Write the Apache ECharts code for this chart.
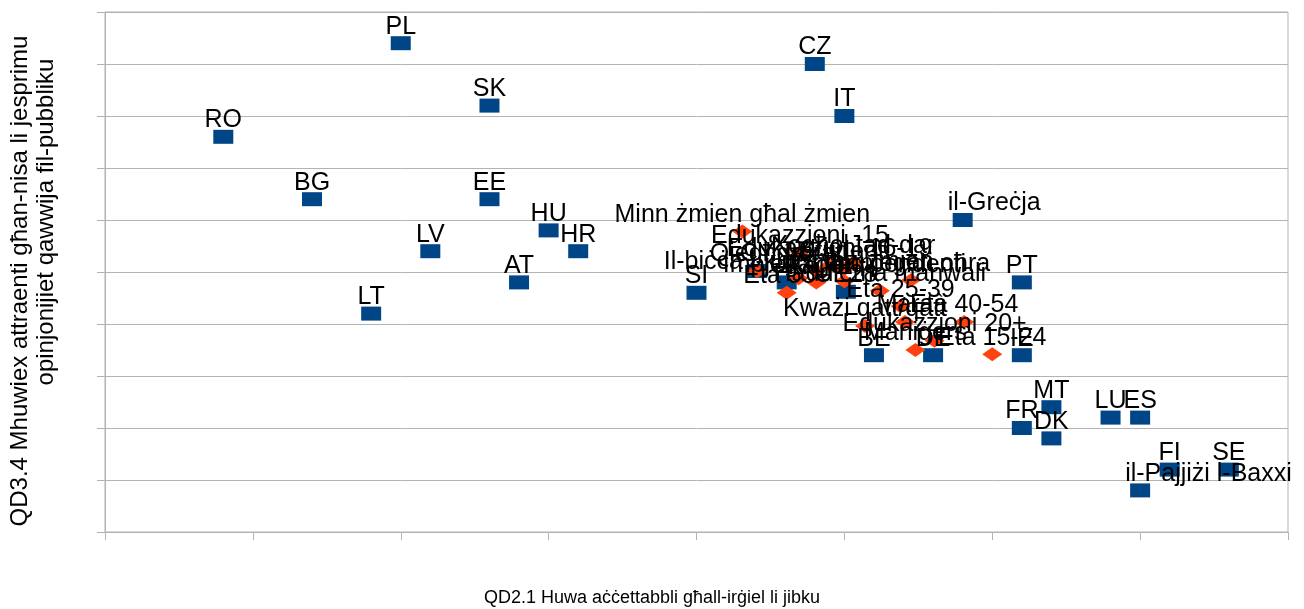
<!DOCTYPE html>
<html>
<head>
<meta charset="utf-8">
<title>QD2.1 / QD3.4</title>
<script src="https://cdn.jsdelivr.net/npm/echarts@6/dist/echarts.min.js"></script>
<style>
  html, body { margin: 0; padding: 0; background: #fff; }
  #chart { width: 1304px; height: 609px; }
</style>
</head>
<body>
<div id="chart"></div>
<script>
// pajjiżi (kwadri blu)
var countryNames = ["RO", "PL", "SK", "BG", "EE", "LV", "LT", "AT", "HU", "HR", "SI", "CZ", "IT",
  "il-Greċja", "PT", "BE", "DE", "IE", "FR", "MT", "DK", "LU", "ES", "FI", "SE",
  "il-Pajjiżi l-Baxxi", "CY", "UK", "UE28"];
var countryX = [8.0, 20.0, 26.0, 14.0, 26.0, 22.0, 18.0, 28.0, 30.0, 32.0, 40.0, 48.0, 50.0,
  58.0, 62.0, 52.0, 56.0, 62.0, 62.0, 64.0, 64.0, 68.0, 70.0, 72.0, 76.0,
  70.0, 44.1, 46.1, 50.1];
var countryY = [38.0, 47.0, 41.0, 32.0, 32.0, 27.0, 21.0, 24.0, 29.0, 27.0, 23.0, 45.0, 40.0,
  30.0, 24.0, 17.0, 17.0, 17.0, 10.0, 12.0, 9.0, 11.0, 11.0, 6.0, 6.0,
  4.0, 25.1, 24.0, 23.1];

// gruppi soċjo-demografiċi (djamanti oranġjo)
var groupNames = ["Minn żmien għal żmien", "Edukazzjoni -15", "Xogħol tad-dar", "Il-biċċa l-kbira taż-żmien",
  "Qiegħda", "Raġel", "Edukazzjoni 16-19", "Età 55+", "Ħaddiema manwali", "Impjegati oħra",
  "Studenti", "Età 25-39", "Età 40-54", "Edukazzjoni 20+", "Mara", "Maniġers", "Età 15-24",
  "Impjegati indipendenti", "Irtirati", "Kważi qatt/qatt"];
var groupX = [43.1, 47.0, 50.6, 46.9, 44.1, 48.1, 49.0, 46.1, 52.4, 54.5,
  50.0, 53.8, 58.1, 56.1, 54.1, 54.8, 60.0, 50.0, 48.1, 51.4];
var groupY = [28.9, 26.9, 25.9, 24.4, 25.1, 24.0, 25.6, 23.0, 23.2, 24.2,
  25.3, 21.7, 20.2, 18.4, 20.2, 17.5, 17.1, 24.1, 25.1, 19.8];

var xTitle = "QD2.1 Huwa aċċettabbli għall-irġiel li jibku";
var yTitle1 = "QD3.4 Mhuwiex attraenti għan-nisa li jesprimu";
var yTitle2 = "opinjonijiet qawwija fil-pubbliku";

var font = "Liberation Sans, Arial, sans-serif";

function points(names, xs, ys) {
  return names.map(function (n, i) {
    var item = { name: n, value: [xs[i], ys[i]] };
    // l-ismijiet twal tal-pajjiżi jibdew ftit qabel il-punt
    if (n.indexOf("il-") === 0) {
      item.label = { align: "left", offset: [-15, 0] };
    }
    return item;
  });
}

var labelStyle = {
  show: true,
  position: "top",
  distance: -3,
  formatter: "{b}",
  color: "#000",
  opacity: 1,
  fontSize: 25,
  fontFamily: font
};

var chart = echarts.init(document.getElementById("chart"));
chart.setOption({
  animation: false,
  grid: {
    left: 105, right: 16, top: 12, bottom: 77,
    show: true, borderColor: "#b3b3b3", borderWidth: 1
  },
  xAxis: {
    type: "value", min: 0, max: 80, interval: 10,
    axisLine: { lineStyle: { color: "#b3b3b3" } },
    axisTick: { show: true, length: 8, lineStyle: { color: "#b3b3b3" } },
    axisLabel: { show: false },
    splitLine: { show: false }
  },
  yAxis: {
    type: "value", min: 0, max: 50, interval: 5,
    axisLine: { show: true, lineStyle: { color: "#b3b3b3" } },
    axisTick: { show: true, length: 8, lineStyle: { color: "#b3b3b3" } },
    axisLabel: { show: false },
    splitLine: { show: true, lineStyle: { color: "#b3b3b3" } }
  },
  graphic: [
    {
      type: "text", left: "center", top: 589,
      style: { text: xTitle, fontSize: 18, fill: "#000", fontFamily: font }
    },
    {
      type: "text", x: 20, y: 281, rotation: Math.PI / 2,
      style: { text: yTitle1, fontSize: 24, fill: "#000", align: "center", verticalAlign: "middle", fontFamily: font }
    },
    {
      type: "text", x: 46, y: 222, rotation: Math.PI / 2,
      style: { text: yTitle2, fontSize: 24, fill: "#000", align: "center", verticalAlign: "middle", fontFamily: font }
    }
  ],
  series: [
    {
      name: "Pajjiżi",
      type: "scatter",
      symbol: "rect",
      symbolSize: [20, 14],
      itemStyle: { color: "#004586", opacity: 1 },
      label: labelStyle,
      data: points(countryNames, countryX, countryY)
    },
    {
      name: "Gruppi",
      type: "scatter",
      symbol: "diamond",
      symbolSize: [20, 14],
      itemStyle: { color: "#ff420e", opacity: 1 },
      label: labelStyle,
      data: points(groupNames, groupX, groupY)
    }
  ]
});
</script>
</body>
</html>
